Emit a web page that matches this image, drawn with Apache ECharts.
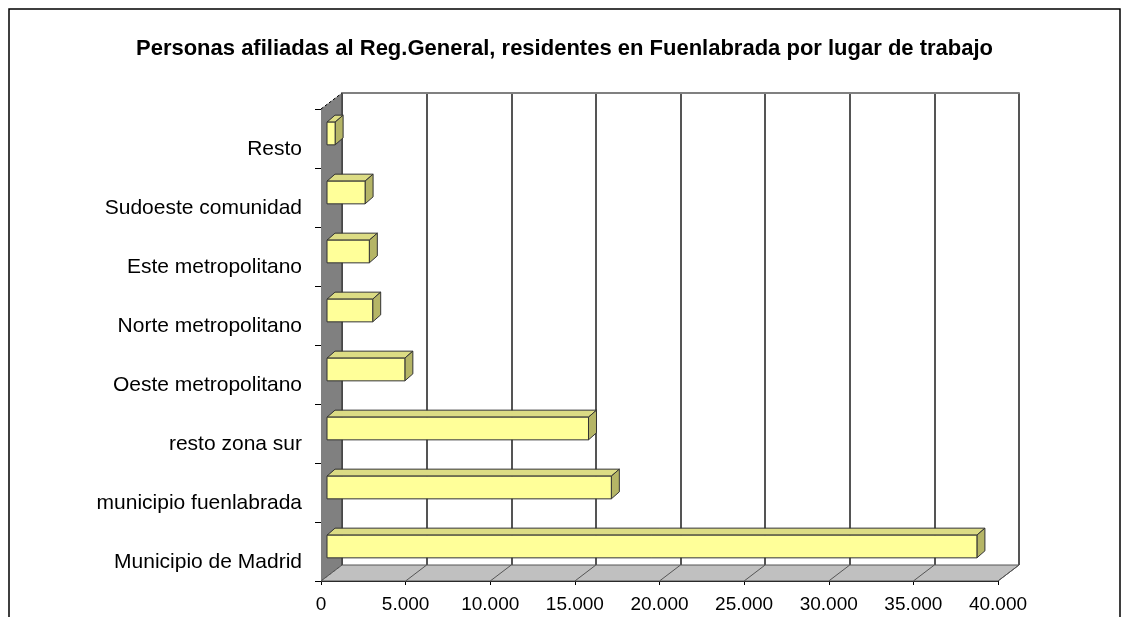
<!DOCTYPE html>
<html>
<head>
<meta charset="utf-8">
<script src="https://cdn.jsdelivr.net/npm/echarts@6/dist/echarts.min.js"></script>
<style>
  html, body { margin: 0; padding: 0; background: #fff; }
  #chart { width: 1129px; height: 617px; }
</style>
</head>
<body>
<div id="chart"></div>
<script>
// datos (de abajo a arriba)
const categories = [
  'Municipio de Madrid',
  'municipio fuenlabrada',
  'resto zona sur',
  'Oeste metropolitano',
  'Norte metropolitano',
  'Este metropolitano',
  'Sudoeste comunidad',
  'Resto'
];
const afiliados = [38400, 16800, 15450, 4600, 2700, 2500, 2250, 480];
const xTicks = [0, 5000, 10000, 15000, 20000, 25000, 30000, 35000, 40000];

const TITLE = 'Personas afiliadas al Reg.General, residentes en Fuenlabrada por lugar de trabajo';
const FONT = "'Liberation Sans', Arial, sans-serif";

// profundidad del efecto 3D (px)
const DX = 21, DY = -16;
const BAR_OFF = [6, -5];
const BAR_DEPTH = [8, -7];

const fmt = (v) => String(v).replace(/\B(?=(\d{3})+(?!\d))/g, '.');

const chart = echarts.init(document.getElementById('chart'), null, { renderer: 'canvas' });

function renderFrame(params, api) {
  const cs = params.coordSys;
  const l = cs.x, t = cs.y, r = cs.x + cs.width, b = cs.y + cs.height;
  const children = [];
  // pared izquierda
  children.push({
    type: 'polygon',
    shape: { points: [[l, b], [l, t], [l + DX, t + DY], [l + DX, b + DY]] },
    style: { fill: '#808080', stroke: null }
  });
  // suelo
  children.push({
    type: 'polygon',
    shape: { points: [[l, b], [r, b], [r + DX, b + DY], [l + DX, b + DY]] },
    style: { fill: '#c0c0c0', stroke: '#555', lineWidth: 1 }
  });
  // lineas del suelo
  xTicks.forEach((v) => {
    const x = api.coord([v, 0])[0];
    children.push({
      type: 'line',
      shape: { x1: x, y1: b, x2: x + DX, y2: b + DY },
      style: { stroke: '#555', lineWidth: 1, lineDash: v === 0 ? [3, 2] : null }
    });
  });
  children.push({
    type: 'line',
    shape: { x1: l, y1: t, x2: l + DX, y2: t + DY },
    style: { stroke: '#000', lineWidth: 1, lineDash: [3, 2] }
  });
  children.push({
    type: 'line',
    shape: { x1: l + DX, y1: t + DY, x2: l + DX, y2: b + DY },
    style: { stroke: '#444', lineWidth: 1.5 }
  });
  return { type: 'group', children };
}

function renderBar(params, api) {
  const v = api.value(0);
  const idx = api.value(1);
  const p0 = api.coord([0, idx]);
  const p1 = api.coord([v, idx]);
  const h = api.size([0, 1])[1] * 0.385;
  const x0 = p0[0] + BAR_OFF[0];
  const x1 = p1[0] + BAR_OFF[0];
  const y0 = p0[1] + BAR_OFF[1] - h / 2;
  const y1 = y0 + h;
  const ddx = BAR_DEPTH[0], ddy = BAR_DEPTH[1];
  const line = { stroke: '#333', lineWidth: 1 };
  return {
    type: 'group',
    children: [
      {
        type: 'polygon',
        shape: { points: [[x0, y0], [x1, y0], [x1 + ddx, y0 + ddy], [x0 + ddx, y0 + ddy]] },
        style: Object.assign({ fill: '#dcdc84' }, line)
      },
      {
        type: 'polygon',
        shape: { points: [[x1, y0], [x1 + ddx, y0 + ddy], [x1 + ddx, y1 + ddy], [x1, y1]] },
        style: Object.assign({ fill: '#b5b566' }, line)
      },
      {
        type: 'rect',
        shape: { x: x0, y: y0, width: x1 - x0, height: h },
        style: Object.assign({ fill: '#ffff99' }, line)
      }
    ]
  };
}

const option = {
  backgroundColor: '#fff',
  animation: false,
  title: {
    text: TITLE,
    left: 'center',
    top: 33,
    textStyle: { fontFamily: FONT, fontSize: 22, fontWeight: 'bold', color: '#000' }
  },
  graphic: [
    { type: 'polyline', shape: { points: [[9, 617], [9, 9], [1120, 9], [1120, 617]] },
      style: { stroke: '#000', lineWidth: 1.5, fill: null } }
  ],
  grid: [
    // pared del fondo
    { left: 321 + DX, top: 109 + DY, width: 677, height: 472 },
    // plano frontal
    { left: 321, top: 109, width: 677, height: 472 }
  ],
  xAxis: [
    {
      gridIndex: 0, type: 'value', min: 0, max: 40000, interval: 5000, position: 'top',
      axisLine: { show: true, lineStyle: { color: '#808080', width: 2 } },
      axisTick: { show: false },
      axisLabel: { show: false },
      splitLine: { show: true, lineStyle: { color: '#555', width: 2 } }
    },
    {
      gridIndex: 1, type: 'value', min: 0, max: 40000, interval: 5000,
      axisLine: { show: true, lineStyle: { color: '#000', width: 1 } },
      axisTick: { show: true, length: 4, lineStyle: { color: '#000' } },
      axisLabel: { color: '#000', fontFamily: FONT, fontSize: 19, margin: 14, formatter: fmt },
      splitLine: { show: false }
    }
  ],
  yAxis: [
    {
      gridIndex: 0, type: 'category', data: categories,
      axisLine: { show: false }, axisTick: { show: false }, axisLabel: { show: false },
      splitLine: { show: false }
    },
    {
      gridIndex: 1, type: 'category', data: categories,
      axisLine: { show: true, lineStyle: { color: '#000', width: 1 } },
      axisTick: { show: true, length: 6, lineStyle: { color: '#000' } },
      axisLabel: {
        color: '#000', fontFamily: FONT, fontSize: 21, margin: 19,
        verticalAlign: 'top', lineHeight: 21
      },
      splitLine: { show: false }
    }
  ],
  series: [
    {
      type: 'custom', xAxisIndex: 1, yAxisIndex: 1, z: 2, silent: true,
      renderItem: renderFrame,
      data: [[0, 0]]
    },
    {
      type: 'custom', name: 'Afiliados', xAxisIndex: 1, yAxisIndex: 1, z: 3,
      renderItem: renderBar,
      encode: { x: 0, y: 1 },
      data: afiliados.map((v, i) => [v, i])
    }
  ]
};

chart.setOption(option);
</script>
</body>
</html>
